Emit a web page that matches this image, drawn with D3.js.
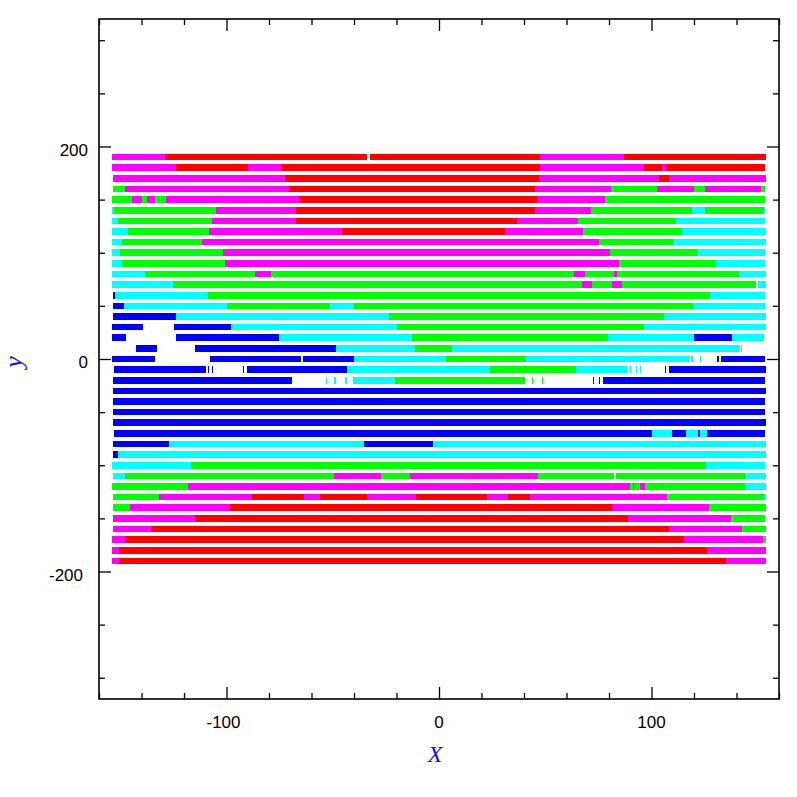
<!DOCTYPE html>
<html>
<head>
<meta charset="utf-8">
<script src="https://cdn.jsdelivr.net/npm/d3@7"></script>
<style>
  html, body { margin: 0; padding: 0; background: #fff; }
  svg { display: block; }
</style>
</head>
<body>
<svg id="chart" width="797" height="797"></svg>
<script>
// ---------------- data ----------------
const xMajorTicks = [-100, 0, 100];
const xMinorTicks = [-160, -140, -120, -80, -60, -40, -20, 20, 40, 60, 80, 120, 140, 160];
const yMajorTicks = [-200, 0, 200];
const yMinorTicks = [-300, -250, -150, -100, -50, 50, 100, 150, 250, 300];
const xTickLabels = ["-100", "0", "100"];
const yTickLabels = ["-200", "0", "200"];

const rowY = [190, 180, 170, 160, 150, 140, 130, 120, 110, 100,
              90, 80, 70, 60, 50, 40, 30, 20, 10, 0,
              -10, -20, -30, -40, -50, -60, -70, -80, -90, -100,
              -110, -120, -130, -140, -150, -160, -170, -180, -190];

// segments per row: [xStart, xEnd, colourCode]
const rowSegments = [
  [[-154,-129,"m"],[-129,-34,"r"],[-32.5,47.5,"r"],[47.5,87,"m"],[87,154,"r"]],
  [[-154,-124,"m"],[-124,-90,"r"],[-90,-74,"m"],[-74,47.5,"r"],[47.5,96.5,"m"],[96.5,105,"r"],[105,107,"m"],[107,153.5,"r"]],
  [[-153.5,-72.5,"m"],[-72.5,47,"r"],[47,103.5,"m"],[103.5,108,"r"],[108,154,"m"]],
  [[-153.5,-148,"g"],[-148,-70.5,"m"],[-70.5,45,"r"],[45,81,"m"],[81,102.5,"g"],[102.5,120,"m"],[120,125,"g"],[125,151.5,"m"],[151.5,153.5,"g"]],
  [[-154,-144.5,"g"],[-144.5,-140,"m"],[-140,-137.5,"g"],[-137.5,-133.5,"m"],[-133.5,-128.5,"g"],[-128.5,-66,"m"],[-66,46,"r"],[46,78,"m"],[78,153.5,"g"]],
  [[-154,-153,"c"],[-153,-105,"g"],[-105,-67.3,"m"],[-67.3,45,"r"],[45,71.5,"m"],[71.5,119,"g"],[119,125,"c"],[125,153,"g"],[153,153.5,"c"]],
  [[-154,-151,"c"],[-151,-107,"g"],[-107,-67.3,"m"],[-67.3,36.7,"r"],[36.7,65.4,"m"],[65.4,111.5,"g"],[111.5,153.5,"c"]],
  [[-154,-146.4,"c"],[-146.4,-108.2,"g"],[-108.2,-45.6,"m"],[-45.6,31,"r"],[31,67.8,"m"],[67.8,114.4,"g"],[114.4,154,"c"]],
  [[-154,-149,"c"],[-149,-111.5,"g"],[-111.5,75.3,"m"],[75.3,110,"g"],[110,154,"c"]],
  [[-154,-150,"c"],[-150,-101.6,"g"],[-101.6,80.5,"m"],[80.5,121.4,"g"],[121.4,153.5,"c"]],
  [[-154,-149,"c"],[-149,-100.7,"g"],[-100.7,84.7,"m"],[84.7,130.4,"g"],[130.4,153.5,"c"]],
  [[-154,-138.4,"c"],[-138.4,-86.6,"g"],[-86.6,-79,"m"],[-79,63.5,"g"],[63.5,68.7,"m"],[68.7,82.4,"g"],[82.4,83.8,"m"],[83.8,141.2,"g"],[141.2,154,"c"]],
  [[-154,-125.2,"c"],[-125.2,67.3,"g"],[67.3,72,"m"],[72,81.4,"g"],[81.4,86.1,"m"],[86.1,149.2,"g"],[150.1,154,"c"]],
  [[-153.5,-152.5,"b"],[-152.5,-108.7,"c"],[-108.7,127.5,"g"],[127.5,153.5,"c"]],
  [[-153.5,-148.2,"b"],[-148.2,-99.8,"c"],[-99.8,-51.3,"g"],[-51.3,-40,"c"],[-40,119.5,"g"],[119.5,153.5,"c"]],
  [[-153.5,-123.8,"b"],[-123.8,-23.5,"c"],[-23.5,105.9,"g"],[105.9,154,"c"]],
  [[-154,-139.3,"b"],[-124.7,-97.9,"b"],[-97.9,-19.8,"c"],[-19.8,96.5,"g"],[96.5,154,"c"]],
  [[-154,-147.3,"b"],[-123.8,-75.3,"b"],[-75.3,-12.7,"c"],[-12.7,79.5,"g"],[79.5,120,"c"],[120,137.9,"b"],[137.9,153,"c"]],
  [[-142.6,-132.7,"b"],[-114.8,-48.5,"b"],[-48.5,-11.3,"c"],[-11.3,6.1,"g"],[6.1,141.6,"c"],[142,142.5,"c"]],
  [[-154,-133.6,"b"],[-107.8,-65,"b"],[-64,-40,"b"],[-40,3.3,"c"],[3.3,40.9,"g"],[40.9,118.1,"c"],[118.8,119.3,"c"],[122.7,123.2,"c"],[131,131.6,"b"],[132.5,153.4,"b"]],
  [[-153,-109.6,"b"],[-108.9,-108.4,"b"],[-106.7,-106.2,"b"],[-92.4,-91.9,"b"],[-90.4,-43.3,"b"],[-43.3,24,"c"],[24,64.5,"g"],[64.5,88.5,"c"],[89.7,90.2,"c"],[92.5,93,"c"],[94.6,95.1,"c"],[106.3,106.9,"b"],[108.2,154,"b"]],
  [[-153.5,-69.2,"b"],[-53.4,-52.9,"c"],[-49.2,-48.7,"c"],[-44.4,-43.5,"c"],[-40.5,-20.7,"c"],[-20.7,40.5,"g"],[43.6,44.3,"g"],[48.3,49,"g"],[72.3,73,"b"],[75.1,75.8,"b"],[77.2,153.5,"b"]],
  [[-153.5,154,"b"]],
  [[-153.5,153.5,"b"]],
  [[-153.5,153.5,"b"]],
  [[-153.5,154,"b"]],
  [[-153,100.2,"b"],[100.2,109.6,"c"],[109.6,116.2,"b"],[116.2,122,"c"],[122,123,"b"],[123,126,"c"],[126,153.5,"b"]],
  [[-153.5,-127,"b"],[-127,-35.3,"c"],[-35.3,-2.8,"b"],[-2.8,154,"c"]],
  [[-153.5,-151,"b"],[-151,154,"c"]],
  [[-154,-116.7,"c"],[-116.7,125.6,"g"],[125.6,153.5,"c"]],
  [[-153.5,-147.8,"c"],[-147.8,-49.4,"g"],[-49.4,-27.3,"m"],[-27.3,-13.6,"g"],[-13.6,46.6,"m"],[46.6,82.4,"g"],[83.3,144,"g"],[144,154,"c"]],
  [[-154,-118.1,"g"],[-118.1,89.9,"m"],[89.9,91.3,"g"],[91.3,91.8,"m"],[91.8,94.6,"g"],[94.6,96.9,"m"],[96.9,144,"g"],[144,154,"c"]],
  [[-153.5,-131.8,"g"],[-131.8,-88,"m"],[-88,-63.5,"r"],[-63.5,-56,"m"],[-56,-33.9,"r"],[-33.9,-10.8,"m"],[-10.8,22.6,"r"],[22.6,32.5,"m"],[32.5,42.8,"r"],[42.8,107.3,"m"],[107.3,152.9,"g"],[152.9,154,"c"]],
  [[-153.5,-145.4,"g"],[-145.4,-98.4,"m"],[-98.4,81.4,"r"],[81.4,127,"m"],[127,154,"g"]],
  [[-153.5,-114.8,"m"],[-114.8,88.9,"r"],[88.9,137.4,"m"],[137.4,153.5,"g"]],
  [[-153.5,-135.5,"m"],[-135.5,108.2,"r"],[108.2,142.6,"m"],[142.6,154,"g"]],
  [[-154,-147.8,"m"],[-147.8,115.3,"r"],[115.3,152.5,"m"],[152.5,154,"g"]],
  [[-154,-150.6,"m"],[-150.6,126.1,"r"],[126.1,154,"m"]],
  [[-154,-150.6,"m"],[-150.6,135,"r"],[135,154,"m"]]
];

// ---------------- styles / layout ----------------
const palette = { r: "#ff0000", m: "#ff00ff", g: "#00ff00", c: "#00ffff", b: "#0000ff" };
const barHalf = 3.15; // half thickness in y units
const padL = 99, padR = 779, padT = 19, padB = 699;

const svg = d3.select("#chart");
const x = d3.scaleLinear().domain([-160, 160]).range([padL, padR]);
const y = d3.scaleLinear().domain([-320, 320]).range([padB, padT]);

// bars
const rowsG = svg.append("g");
rowSegments.forEach((segs, i) => {
  const yc = rowY[i];
  rowsG.selectAll(null)
    .data(segs)
    .enter().append("rect")
    .attr("x", d => x(d[0]))
    .attr("width", d => Math.max(0.8, x(d[1]) - x(d[0])))
    .attr("y", y(yc + barHalf))
    .attr("height", y(yc - barHalf) - y(yc + barHalf))
    .attr("fill", d => palette[d[2]])
    .attr("shape-rendering", "crispEdges");
});

// axes (ticks pointing inward on all four sides)
function addAxis(gen, tr) {
  const g = svg.append("g").attr("transform", tr).call(gen);
  g.select(".domain").remove();
  g.selectAll("line").attr("stroke", "#000").attr("stroke-width", 1.3);
  return g;
}
const fmt = () => "";
addAxis(d3.axisBottom(x).tickValues(xMajorTicks).tickSize(-12).tickFormat(fmt), `translate(0,${padB})`);
addAxis(d3.axisBottom(x).tickValues(xMinorTicks).tickSize(-6).tickFormat(fmt), `translate(0,${padB})`);
addAxis(d3.axisTop(x).tickValues(xMajorTicks).tickSize(-12).tickFormat(fmt), `translate(0,${padT})`);
addAxis(d3.axisTop(x).tickValues(xMinorTicks).tickSize(-6).tickFormat(fmt), `translate(0,${padT})`);
addAxis(d3.axisLeft(y).tickValues(yMajorTicks).tickSize(-12).tickFormat(fmt), `translate(${padL},0)`);
addAxis(d3.axisLeft(y).tickValues(yMinorTicks).tickSize(-6).tickFormat(fmt), `translate(${padL},0)`);
addAxis(d3.axisRight(y).tickValues(yMajorTicks).tickSize(-12).tickFormat(fmt), `translate(${padR},0)`);
addAxis(d3.axisRight(y).tickValues(yMinorTicks).tickSize(-6).tickFormat(fmt), `translate(${padR},0)`);

// frame
svg.append("rect")
  .attr("x", padL).attr("y", padT)
  .attr("width", padR - padL).attr("height", padB - padT)
  .attr("fill", "none").attr("stroke", "#000").attr("stroke-width", 1.6);

// tick labels
const labelFont = "'Liberation Sans', Arial, sans-serif";
svg.append("g").selectAll("text")
  .data(xMajorTicks)
  .enter().append("text")
  .attr("x", (d, i) => x(d) - (xTickLabels[i].startsWith("-") ? 3 : 0))
  .attr("y", 728)
  .attr("text-anchor", "middle")
  .attr("font-family", labelFont)
  .attr("font-size", 17)
  .text((d, i) => xTickLabels[i]);

svg.append("g").selectAll("text")
  .data(yMajorTicks)
  .enter().append("text")
  .attr("x", (d, i) => yTickLabels[i].startsWith("-") ? 83 : 88)
  .attr("y", d => y(d) + 9)
  .attr("text-anchor", "end")
  .attr("font-family", labelFont)
  .attr("font-size", 17)
  .text((d, i) => yTickLabels[i]);

// axis titles
svg.append("text")
  .attr("x", 435).attr("y", 762)
  .attr("text-anchor", "middle")
  .attr("font-family", "'Liberation Serif', 'DejaVu Serif', serif")
  .attr("font-style", "italic")
  .attr("font-size", 24)
  .attr("fill", "#1010e0")
  .text("X");

svg.append("text")
  .attr("transform", "translate(22,362) rotate(-90)")
  .attr("text-anchor", "middle")
  .attr("font-family", "'Liberation Serif', 'DejaVu Serif', serif")
  .attr("font-style", "italic")
  .attr("font-size", 26)
  .attr("fill", "#1010e0")
  .text("y");
</script>
</body>
</html>
